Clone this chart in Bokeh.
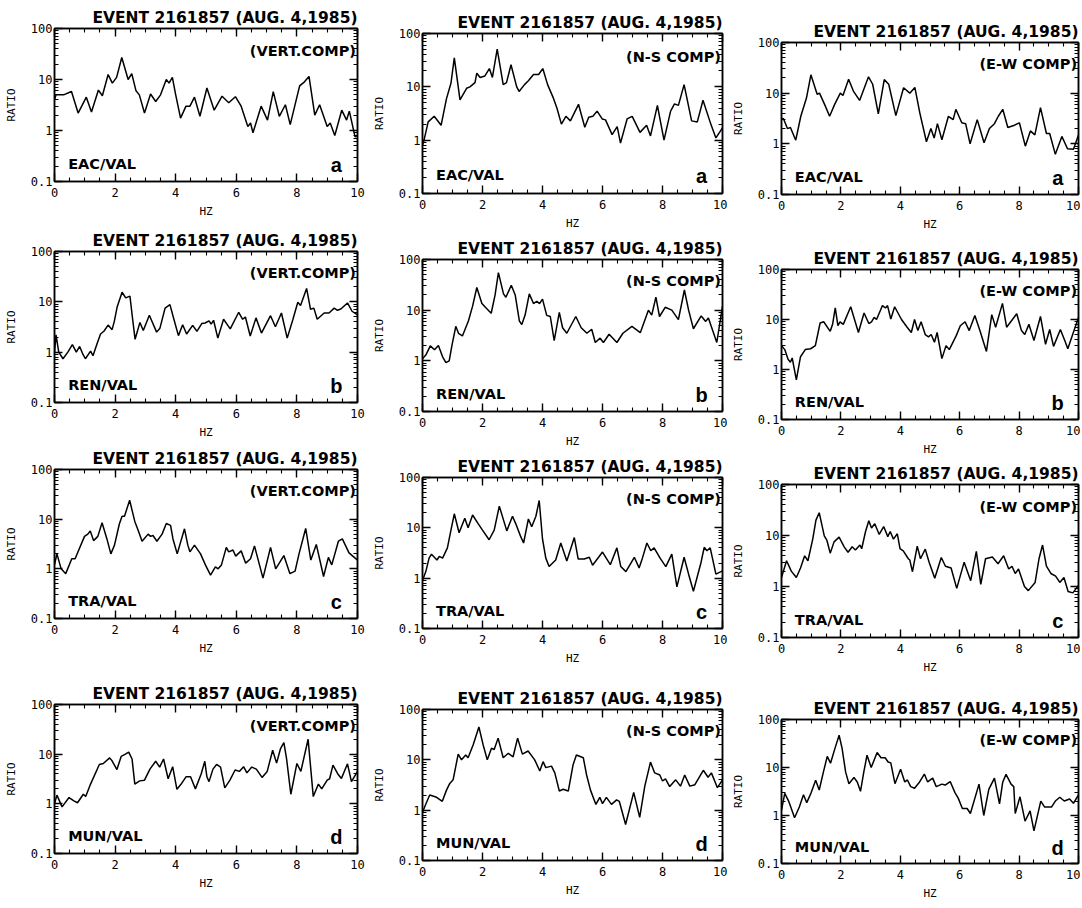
from bokeh.plotting import figure
from bokeh.layouts import row, column
from bokeh.models import (LogAxis, LinearAxis, Label, Range1d, FixedTicker,
                          SingleIntervalTicker, NumeralTickFormatter,
                          CustomJSTickFormatter)
from bokeh.embed import file_html
from bokeh.resources import INLINE

TITLE = "EVENT 2161857 (AUG. 4,1985)"
STATIONS = ["EAC/VAL", "REN/VAL", "TRA/VAL", "MUN/VAL"]
PANEL_LETTERS = ["a", "b", "c", "d"]
COMPONENTS = ["(VERT.COMP)", "(N-S COMP)", "(E-W COMP)"]
Y_TICKS = [0.1, 1, 10, 100]
Y_MINOR = [0.2, 0.3, 0.4, 0.5, 0.6, 0.7, 0.8, 0.9, 2, 3, 4, 5, 6, 7, 8, 9,
           20, 30, 40, 50, 60, 70, 80, 90]

# ---------------- EAC/VAL ----------------
EAC_VERT_HZ = [0.0, 0.05, 0.3, 0.56, 0.78, 1.05, 1.22, 1.45, 1.58, 1.77, 1.91, 2.05, 2.22, 2.43, 2.55, 2.69, 2.8, 2.97, 3.17, 3.34, 3.5, 3.69, 3.78, 3.89, 4.0, 4.16, 4.34, 4.47, 4.62, 4.8, 5.03, 5.27, 5.53, 5.75, 5.97, 6.16, 6.38, 6.47, 6.55, 6.82, 7.03, 7.22, 7.42, 7.62, 7.78, 8.09, 8.25, 8.4, 8.59, 8.75, 9.0, 9.1, 9.25, 9.48, 9.64, 9.73, 9.92, 10.0]
EAC_VERT_RATIO = [4, 5, 5, 5.8, 2.2, 4.5, 2.3, 6.2, 4.8, 12.5, 8.5, 11, 27, 10, 13, 6, 5, 2.2, 5.2, 3.7, 5, 10, 8.5, 11, 5, 1.75, 3, 3, 4.5, 1.9, 6.8, 2.5, 4.7, 3.5, 4.6, 3, 1.2, 1.4, 0.9, 3, 1.6, 5.8, 1.9, 3.2, 1.3, 7.5, 9, 11.5, 2, 3.2, 1.2, 1.4, 0.8, 2.5, 1.6, 2.4, 0.75, 0.8]

EAC_NS_HZ = [0.0, 0.05, 0.19, 0.39, 0.62, 0.8, 0.95, 1.06, 1.25, 1.47, 1.58, 1.75, 1.81, 1.92, 2.08, 2.23, 2.33, 2.49, 2.69, 2.8, 2.95, 3.14, 3.22, 3.4, 3.53, 3.7, 3.87, 4.01, 4.17, 4.37, 4.48, 4.63, 4.78, 4.93, 5.2, 5.41, 5.54, 5.68, 5.82, 5.99, 6.1, 6.32, 6.49, 6.6, 6.82, 6.99, 7.25, 7.47, 7.6, 7.83, 8.05, 8.27, 8.4, 8.53, 8.72, 8.97, 9.16, 9.35, 9.61, 9.78, 10.0]
EAC_NS_RATIO = [0.8, 1.0, 2.2, 2.8, 1.9, 6, 11.8, 35, 5.7, 9.4, 10, 12, 18, 15, 16, 22, 15, 51, 11, 12, 26, 10, 8.2, 11, 13, 17, 17, 22, 11, 6, 4, 2.0, 2.8, 2.3, 4.7, 1.75, 2.7, 2.8, 3.5, 2.5, 2.4, 1.27, 1.8, 0.88, 2.5, 2.8, 1.4, 1.9, 1.2, 4.5, 1.0, 3.5, 4.8, 4.5, 11, 2.3, 2.2, 5.6, 2.0, 1.1, 1.7]

EAC_EW_HZ = [0.0, 0.06, 0.2, 0.3, 0.48, 0.65, 0.84, 0.99, 1.2, 1.28, 1.45, 1.62, 1.79, 1.98, 2.07, 2.26, 2.42, 2.63, 2.93, 3.07, 3.26, 3.46, 3.61, 3.85, 4.11, 4.32, 4.49, 4.66, 4.88, 5.03, 5.14, 5.25, 5.4, 5.62, 5.78, 5.87, 6.07, 6.2, 6.35, 6.59, 6.82, 7.0, 7.17, 7.3, 7.45, 7.62, 7.82, 8.01, 8.21, 8.38, 8.53, 8.72, 8.92, 9.03, 9.22, 9.44, 9.63, 9.83, 10.0]
EAC_EW_RATIO = [3, 3.2, 2.0, 2.1, 1.18, 3.5, 8, 23, 9.5, 10, 6, 3.5, 6, 10, 9, 18.8, 11, 7.2, 21, 15, 3.9, 18.5, 15, 3.6, 12.8, 10, 13, 4, 1.1, 2, 1.3, 2.5, 1.2, 3.5, 3, 4.8, 2.6, 2.5, 1.0, 3, 1.05, 2.0, 2.5, 3.5, 4.8, 2.1, 2.3, 2.6, 0.9, 1.8, 1.5, 5.2, 1.6, 1.6, 0.62, 1.4, 0.8, 0.78, 1.5]

# ---------------- REN/VAL ----------------
REN_VERT_HZ = [0.0, 0.05, 0.14, 0.28, 0.44, 0.59, 0.72, 0.83, 0.94, 1.02, 1.19, 1.27, 1.41, 1.52, 1.63, 1.77, 1.9, 1.97, 2.07, 2.23, 2.35, 2.49, 2.57, 2.66, 2.82, 2.93, 3.13, 3.37, 3.48, 3.65, 3.81, 3.92, 4.09, 4.23, 4.36, 4.56, 4.7, 4.86, 4.97, 5.1, 5.17, 5.25, 5.39, 5.58, 5.8, 6.08, 6.21, 6.3, 6.46, 6.65, 6.83, 7.13, 7.29, 7.49, 7.68, 7.87, 8.03, 8.12, 8.32, 8.45, 8.56, 8.67, 8.9, 9.06, 9.23, 9.34, 9.45, 9.67, 9.82, 10.0]
REN_VERT_RATIO = [1.0, 2.2, 1.0, 0.74, 1.0, 1.41, 1.0, 1.3, 0.9, 0.74, 1.05, 0.85, 1.5, 2.3, 2.6, 3.45, 2.8, 4, 8, 15.5, 12, 13, 5, 1.8, 3.9, 2.7, 5.4, 2.5, 3, 7.5, 8.8, 5, 2.13, 3.5, 2.3, 3.4, 2.6, 3.7, 3.8, 4.2, 3.6, 4.3, 1.9, 4.5, 2.9, 6.2, 4.5, 5, 2.1, 4.8, 2.4, 5.3, 3.2, 6, 1.9, 4.5, 9.8, 8.5, 18.5, 7.1, 7.5, 4.5, 6, 6, 7.5, 6.8, 7.2, 9.5, 6.5, 5.5]

REN_NS_HZ = [0.0, 0.11, 0.26, 0.4, 0.53, 0.67, 0.78, 0.89, 0.98, 1.11, 1.2, 1.33, 1.53, 1.67, 1.81, 1.98, 2.12, 2.29, 2.42, 2.53, 2.7, 2.78, 2.96, 3.09, 3.23, 3.31, 3.42, 3.56, 3.7, 3.81, 3.9, 4.0, 4.14, 4.26, 4.39, 4.56, 4.67, 4.81, 5.11, 5.29, 5.48, 5.64, 5.76, 5.92, 6.03, 6.22, 6.48, 6.68, 6.98, 7.26, 7.53, 7.64, 7.78, 7.9, 8.09, 8.31, 8.53, 8.73, 8.87, 9.03, 9.29, 9.44, 9.53, 9.67, 9.81, 10.0]
REN_NS_RATIO = [1.1, 1.3, 1.97, 1.65, 2.0, 1.2, 0.92, 1.0, 2.0, 4.8, 3.5, 3.1, 6.1, 12, 28, 13.5, 11, 8.7, 20, 55, 21, 18, 31, 20, 6.1, 5.2, 8, 21, 13.5, 15, 13.5, 16.5, 7.9, 7.5, 2.5, 9, 4.5, 3.5, 7.5, 4.5, 3.5, 4.2, 2.3, 2.8, 2.3, 3.35, 2.3, 3.5, 4.8, 3.6, 10, 8, 18, 7.5, 11.4, 10, 6.5, 25, 10, 4.3, 7.7, 6, 7, 4, 2.3, 12]

REN_EW_HZ = [0.0, 0.11, 0.22, 0.3, 0.36, 0.5, 0.64, 0.8, 0.98, 1.14, 1.3, 1.42, 1.64, 1.72, 1.81, 1.9, 1.97, 2.08, 2.33, 2.59, 2.78, 2.94, 3.03, 3.12, 3.2, 3.4, 3.5, 3.57, 3.68, 3.81, 4.04, 4.23, 4.37, 4.48, 4.59, 4.7, 4.84, 4.95, 5.04, 5.15, 5.24, 5.4, 5.54, 5.65, 5.88, 6.02, 6.18, 6.32, 6.51, 6.68, 6.9, 7.08, 7.21, 7.44, 7.58, 7.92, 8.08, 8.19, 8.33, 8.5, 8.72, 8.89, 9.03, 9.16, 9.39, 9.56, 9.64, 10.0]
REN_EW_RATIO = [3, 2.5, 1.6, 1.4, 1.7, 0.62, 1.8, 2.5, 2.6, 3, 8.5, 9, 5.8, 8, 17, 7.5, 9, 8, 18, 5.5, 13.5, 8.3, 9, 11, 10, 19, 17, 19, 10.2, 18, 10, 7, 5.5, 10, 6, 9, 5, 4.5, 5, 3.5, 5.5, 1.65, 3, 2.5, 4.7, 7.5, 9, 6, 12, 6, 2.3, 12.5, 7, 21, 7, 13, 6, 5, 8, 3.8, 11.5, 3.2, 6.3, 2.9, 6.3, 3.5, 2.6, 11]

# ---------------- TRA/VAL ----------------
TRA_VERT_HZ = [0.0, 0.08, 0.22, 0.37, 0.57, 0.68, 0.99, 1.1, 1.18, 1.29, 1.43, 1.57, 1.73, 1.86, 1.98, 2.14, 2.23, 2.31, 2.48, 2.65, 2.76, 2.89, 3.09, 3.17, 3.25, 3.38, 3.55, 3.69, 3.83, 3.91, 4.05, 4.29, 4.4, 4.47, 4.62, 4.82, 4.98, 5.15, 5.31, 5.4, 5.51, 5.67, 5.75, 5.89, 5.98, 6.16, 6.31, 6.47, 6.6, 6.88, 7.13, 7.3, 7.57, 7.77, 7.94, 8.07, 8.29, 8.46, 8.64, 8.88, 9.04, 9.15, 9.37, 9.5, 9.72, 10.0]
TRA_VERT_RATIO = [1.2, 2.0, 1.0, 0.8, 1.6, 1.6, 4.5, 5, 5.8, 3.7, 4.5, 8.5, 4, 2.0, 3, 8, 11.5, 11.5, 24, 9, 6, 3.6, 5, 4.5, 4.7, 3.6, 5, 8.2, 7.5, 4, 2.0, 6.4, 3, 2.2, 3, 2, 1.2, 0.75, 1.1, 1.0, 1.2, 2.7, 2.2, 2.4, 1.8, 2.3, 1.3, 1.6, 2.9, 0.65, 2.7, 1.0, 1.85, 0.8, 0.9, 2, 6.5, 1.5, 3.1, 0.7, 1.7, 1.2, 3.6, 4, 2.1, 1.5]

TRA_NS_HZ = [0.0, 0.11, 0.22, 0.3, 0.48, 0.56, 0.67, 0.83, 0.94, 1.06, 1.22, 1.41, 1.52, 1.67, 1.86, 2.0, 2.22, 2.39, 2.56, 2.81, 3.0, 3.11, 3.26, 3.37, 3.53, 3.64, 3.78, 3.89, 4.0, 4.11, 4.22, 4.44, 4.61, 4.81, 5.06, 5.19, 5.39, 5.56, 5.67, 6.0, 6.26, 6.48, 6.61, 6.78, 7.06, 7.22, 7.33, 7.48, 7.61, 7.72, 7.92, 8.11, 8.31, 8.48, 8.72, 8.87, 9.03, 9.28, 9.39, 9.48, 9.59, 9.78, 10.0]
TRA_NS_RATIO = [0.9, 1.35, 2.5, 3.0, 2.3, 2.7, 2.5, 4, 8.5, 19, 8, 15.5, 10, 18, 12, 9, 5.8, 9, 27, 8.7, 17, 12, 7, 5, 15, 10.5, 17, 35, 6, 2.5, 1.7, 2.3, 5, 2.2, 6.4, 2.4, 2.4, 2.6, 1.8, 3.3, 1.85, 4, 1.7, 1.35, 2.6, 1.6, 2.5, 5, 3.5, 4, 2.5, 1.7, 3, 0.67, 2.6, 1.2, 0.55, 2, 4.1, 3.5, 4, 1.2, 1.4]

TRA_EW_HZ = [0.0, 0.17, 0.33, 0.5, 0.64, 0.78, 0.89, 1.05, 1.16, 1.27, 1.44, 1.53, 1.64, 1.77, 1.94, 2.11, 2.24, 2.38, 2.49, 2.64, 2.7, 2.83, 2.94, 3.03, 3.14, 3.29, 3.44, 3.58, 3.66, 3.77, 3.9, 3.99, 4.1, 4.27, 4.32, 4.41, 4.57, 4.68, 4.84, 4.97, 5.16, 5.38, 5.52, 5.71, 5.9, 6.15, 6.37, 6.56, 6.71, 6.87, 7.1, 7.29, 7.48, 7.65, 7.76, 7.87, 7.98, 8.18, 8.31, 8.54, 8.67, 8.79, 8.92, 9.07, 9.23, 9.37, 9.51, 9.65, 9.81, 10.0]
TRA_EW_RATIO = [1.5, 3.2, 2.0, 1.5, 2.3, 4, 3.2, 8.4, 20, 28, 9.8, 8, 4.5, 7.5, 9.3, 6, 4.7, 6, 5.2, 6.5, 5.5, 12, 19.5, 14, 17, 10.5, 15, 9.5, 12, 8.5, 10.8, 5.5, 5, 3.5, 3.3, 1.95, 6.2, 3.5, 5.4, 3, 1.45, 3.7, 2.5, 2.3, 0.92, 3, 1.3, 4.9, 1.1, 3.5, 3.8, 2.8, 4, 2.2, 2.5, 1.8, 2.2, 1.0, 0.83, 1.2, 3.5, 6.5, 2.5, 1.8, 1.6, 1.2, 1.5, 0.8, 0.75, 1.05]

# ---------------- MUN/VAL ----------------
MUN_VERT_HZ = [0.0, 0.08, 0.25, 0.48, 0.64, 0.76, 0.95, 1.03, 1.19, 1.48, 1.61, 1.82, 1.89, 2.06, 2.2, 2.34, 2.45, 2.56, 2.65, 2.81, 2.97, 3.15, 3.34, 3.47, 3.6, 3.75, 3.9, 4.04, 4.18, 4.34, 4.49, 4.65, 4.84, 4.96, 5.03, 5.1, 5.23, 5.35, 5.48, 5.62, 5.79, 5.96, 6.1, 6.24, 6.35, 6.51, 6.66, 6.85, 7.02, 7.2, 7.33, 7.46, 7.57, 7.66, 7.8, 8.0, 8.13, 8.37, 8.54, 8.71, 8.82, 9.0, 9.08, 9.19, 9.35, 9.47, 9.67, 9.8, 10.0]
MUN_VERT_RATIO = [1.0, 1.5, 0.87, 1.34, 1.15, 1.05, 1.56, 1.4, 2.5, 6.2, 6.5, 8.4, 7.5, 4.9, 9, 10, 11, 8, 2.5, 2.9, 3, 5, 7.2, 5.5, 8, 3.2, 5.6, 1.96, 2.5, 3.5, 3.5, 2.0, 4, 7.2, 3.5, 2.8, 5, 6.2, 5.5, 2.1, 3, 4.8, 4.5, 5.6, 4.2, 5.5, 5, 3.4, 4.5, 12, 6.6, 13, 17, 8, 1.56, 6.5, 4.5, 20, 1.4, 2.5, 2.0, 3, 3.2, 6, 4, 3.25, 6.4, 2.8, 4.5]

MUN_NS_HZ = [0.0, 0.08, 0.24, 0.47, 0.66, 0.8, 0.91, 1.02, 1.19, 1.3, 1.44, 1.52, 1.69, 1.88, 2.02, 2.16, 2.3, 2.39, 2.52, 2.69, 2.86, 3.02, 3.17, 3.33, 3.52, 3.74, 3.91, 4.02, 4.11, 4.3, 4.41, 4.56, 4.69, 4.86, 5.02, 5.13, 5.36, 5.47, 5.6, 5.78, 5.91, 6.0, 6.13, 6.3, 6.47, 6.56, 6.77, 7.04, 7.24, 7.41, 7.6, 7.74, 7.91, 8.0, 8.1, 8.24, 8.44, 8.6, 8.74, 8.91, 9.08, 9.36, 9.52, 9.63, 9.83, 10.0]
MUN_NS_RATIO = [0.9, 1.2, 2.0, 1.8, 1.5, 2.5, 3.4, 4, 13, 10, 12.5, 11, 20, 45, 20, 10, 17, 16, 27, 11, 13.5, 11.5, 27, 13, 15, 10, 6, 9.2, 7, 7.5, 5.5, 2.4, 2.6, 2.4, 8, 12.5, 11, 5, 2.5, 1.3, 1.8, 1.35, 1.8, 1.3, 1.6, 1.5, 0.52, 2.25, 0.72, 3, 9, 5.5, 5, 3.8, 4.2, 2.95, 4, 3, 5, 3, 3.2, 6.2, 4.5, 5.5, 2.8, 4]

MUN_EW_HZ = [0.0, 0.11, 0.24, 0.44, 0.6, 0.74, 0.85, 1.0, 1.15, 1.27, 1.41, 1.54, 1.65, 1.8, 1.94, 2.04, 2.16, 2.27, 2.44, 2.55, 2.66, 2.77, 2.88, 3.02, 3.22, 3.35, 3.49, 3.59, 3.68, 3.82, 4.01, 4.15, 4.24, 4.35, 4.48, 4.65, 4.81, 4.92, 5.09, 5.21, 5.4, 5.51, 5.68, 5.84, 5.95, 6.09, 6.25, 6.36, 6.65, 6.81, 6.98, 7.17, 7.34, 7.45, 7.56, 7.73, 7.82, 7.87, 8.03, 8.2, 8.37, 8.5, 8.73, 8.86, 9.09, 9.22, 9.37, 9.52, 9.7, 9.83, 10.0]
MUN_EW_RATIO = [1.3, 2.9, 2.0, 0.9, 1.5, 2.7, 1.85, 3, 5.4, 3.4, 8, 17, 12.3, 25, 47, 25, 8, 4.6, 6.2, 5, 3.2, 8, 18, 10, 20.5, 16, 16, 13, 12.5, 4.6, 9.2, 5, 5.5, 4, 3.7, 5, 7.3, 5, 6, 4, 4.5, 4.3, 5.1, 3, 2.3, 1.4, 1.4, 1.1, 4.5, 1.0, 3.5, 6, 1.75, 5, 7.2, 4.5, 4, 1.1, 2.45, 0.76, 1.25, 0.48, 2.0, 1.5, 1.5, 2, 2.4, 2, 2.2, 1.8, 2.7]

SERIES = [
    [(EAC_VERT_HZ, EAC_VERT_RATIO), (EAC_NS_HZ, EAC_NS_RATIO), (EAC_EW_HZ, EAC_EW_RATIO)],
    [(REN_VERT_HZ, REN_VERT_RATIO), (REN_NS_HZ, REN_NS_RATIO), (REN_EW_HZ, REN_EW_RATIO)],
    [(TRA_VERT_HZ, TRA_VERT_RATIO), (TRA_NS_HZ, TRA_NS_RATIO), (TRA_EW_HZ, TRA_EW_RATIO)],
    [(MUN_VERT_HZ, MUN_VERT_RATIO), (MUN_NS_HZ, MUN_NS_RATIO), (MUN_EW_HZ, MUN_EW_RATIO)],
]

# layout (pixels): per column (left border, frame width, right border)
COL_W = [(54, 303, 11), (54, 300, 5), (54, 297, 2)]
# per column, per row (top border, frame height, bottom border)
COL_H = [
    [(28, 153, 47), (22, 152, 44), (22, 150, 63), (22, 150, 45)],
    [(33, 160, 43), (22, 153, 43), (22, 152, 58), (22, 152, 42)],
    [(42, 152, 52), (22, 151, 42), (22, 154, 59), (22, 145, 41)],
]

MONO = "DejaVu Sans Mono"
BOLD_FONT = "DejaVu Sans"


def style_axis(ax, show_labels=True):
    ax.axis_line_color = "black"
    ax.axis_line_width = 1.5
    ax.major_tick_line_color = "black"
    ax.minor_tick_line_color = "black"
    ax.major_tick_line_width = 1.4
    ax.minor_tick_line_width = 1.1
    ax.major_tick_in = 8
    ax.major_tick_out = 0
    ax.minor_tick_in = 4
    ax.minor_tick_out = 0
    if show_labels:
        ax.major_label_text_font = MONO
        ax.major_label_text_font_size = "12px"
        ax.major_label_text_color = "black"
        ax.axis_label_text_font = MONO
        ax.axis_label_text_font_size = "11px"
        ax.axis_label_text_font_style = "normal"
        ax.axis_label_text_color = "black"
    else:
        ax.formatter = CustomJSTickFormatter(code="return '';")
        ax.major_label_text_font_size = "1px"
        ax.major_label_standoff = 0


def make_panel(r, c):
    hz, ratio = SERIES[r][c]
    bl, fw, br = COL_W[c]
    bt, fh, bb = COL_H[c][r]
    p = figure(width=bl + fw + br, height=bt + fh + bb,
               x_range=Range1d(0, 10), y_range=Range1d(0.1, 100),
               y_axis_type="log", output_backend="svg", toolbar_location=None,
               min_border_left=bl, min_border_right=br,
               min_border_top=bt, min_border_bottom=bb)
    p.background_fill_color = "white"
    p.border_fill_color = "white"
    p.outline_line_color = "black"
    p.outline_line_width = 1.5
    p.xgrid.visible = False
    p.ygrid.visible = False

    p.title.text = TITLE
    p.title.align = "right"
    p.title.text_font = BOLD_FONT
    p.title.text_font_style = "bold"
    p.title.text_font_size = "15.5px"
    p.title.text_color = "black"
    p.title.standoff = 3

    xa = p.xaxis[0]
    ya = p.yaxis[0]
    xa.ticker = SingleIntervalTicker(interval=2, num_minor_ticks=4)
    ya.ticker = FixedTicker(ticks=Y_TICKS, minor_ticks=Y_MINOR)
    ya.formatter = NumeralTickFormatter(format="0.[0]")
    xa.axis_label = "HZ"
    ya.axis_label = "RATIO"
    style_axis(xa)
    style_axis(ya)
    xa.major_label_standoff = 6
    xa.axis_label_standoff = 5
    ya.major_label_standoff = 2
    ya.axis_label_standoff = 10

    top = LinearAxis(ticker=SingleIntervalTicker(interval=2, num_minor_ticks=4))
    style_axis(top, show_labels=False)
    p.add_layout(top, "above")
    right = LogAxis(ticker=FixedTicker(ticks=Y_TICKS, minor_ticks=Y_MINOR))
    style_axis(right, show_labels=False)
    p.add_layout(right, "right")

    p.line(hz, ratio, line_color="black", line_width=1.5)

    p.add_layout(Label(x=9.95, y=37, text=COMPONENTS[c], text_align="right",
                       text_baseline="middle", text_font=BOLD_FONT,
                       text_font_style="bold", text_font_size="14.5px",
                       text_color="black"))
    p.add_layout(Label(x=0.45, y=0.22, text=STATIONS[r], text_align="left",
                       text_baseline="middle", text_font=BOLD_FONT,
                       text_font_style="bold", text_font_size="14.5px",
                       text_color="black"))
    p.add_layout(Label(x=9.3, y=0.21, text=PANEL_LETTERS[r], text_align="center",
                       text_baseline="middle", text_font="Liberation Sans",
                       text_font_style="bold", text_font_size="20px",
                       text_color="black"))
    return p


cols = [column(*[make_panel(r, c) for r in range(4)], spacing=0) for c in range(3)]
layout = row(*cols, spacing=0)

open("out.html", "w").write(file_html(layout, INLINE, "Spectral ratios"))
